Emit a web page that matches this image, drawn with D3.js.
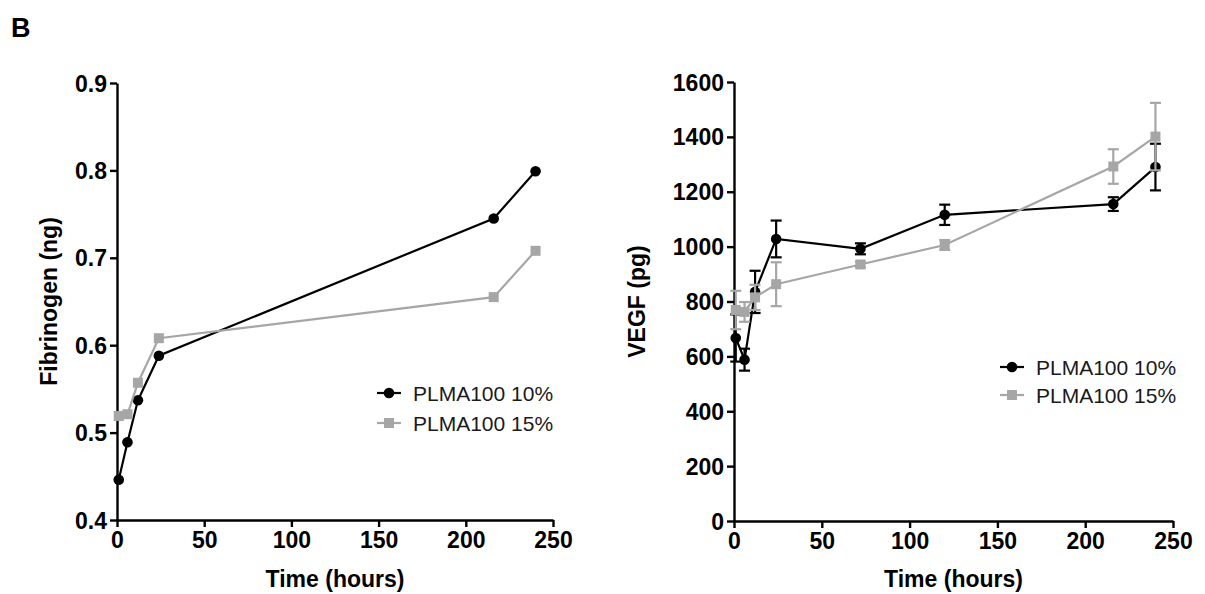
<!DOCTYPE html>
<html>
<head>
<meta charset="utf-8">
<script src="https://cdn.jsdelivr.net/npm/d3@7"></script>
<style>
  body { margin: 0; background: #fff; }
  svg { display: block; }
  text { font-family: "Liberation Sans", Arial, sans-serif; }
</style>
</head>
<body>
<svg id="chart" width="1205" height="594"></svg>
<script>
// ---- Data ----
const panelLabel = "B";
const seriesNames = ["PLMA100 10%", "PLMA100 15%"];

// Left panel: Fibrinogen
const fibTime = [1, 6, 12, 24, 216, 240];
const fib10 = [0.446, 0.489, 0.537, 0.588, 0.745, 0.799];
const fib15 = [0.519, 0.521, 0.557, 0.608, 0.655, 0.708];
const fibYTicks = [0.4, 0.5, 0.6, 0.7, 0.8, 0.9];

// Right panel: VEGF
const vegfTime = [1, 6, 12, 24, 72, 120, 216, 240];
const vegf10 = [667, 588, 835, 1028, 992, 1116, 1155, 1290];
const vegf10Err = [86, 40, 77, 67, 20, 37, 25, 85];
const vegf15 = [769, 762, 815, 863, 935, 1006, 1292, 1401];
const vegf15Err = [70, 36, 46, 80, 10, 18, 63, 123];
const vegfYTicks = [0, 200, 400, 600, 800, 1000, 1200, 1400, 1600];

const xTicks = [0, 50, 100, 150, 200, 250];
const xTitle = "Time (hours)";

// ---- Styles ----
const BLACK = "#000000";
const GRAY = "#a6a6a6";

const svg = d3.select("#chart");

svg.append("text")
  .attr("x", 11).attr("y", 37)
  .attr("font-size", 27).attr("font-weight", "bold")
  .text(panelLabel);

function drawPanel(opts) {
  const x = d3.scaleLinear().domain([0, 250]).range([opts.x0, opts.x1]);
  const y = d3.scaleLinear().domain(opts.yDomain).range([opts.yBottom, opts.yTop]);
  const g = svg.append("g");

  const xAxis = d3.axisBottom(x).tickValues(xTicks).tickSize(7).tickSizeOuter(0).tickFormat(d3.format("d"));
  const yAxis = d3.axisLeft(y).tickValues(opts.yTicks).tickSize(7).tickSizeOuter(0).tickFormat(opts.yFormat);

  const gx = g.append("g").attr("transform", `translate(0,${opts.yBottom})`).call(xAxis);
  const gy = g.append("g").attr("transform", `translate(${opts.x0},0)`).call(yAxis);
  [gx, gy].forEach(a => {
    a.select(".domain").attr("stroke", BLACK).attr("stroke-width", 2.4);
    a.selectAll(".tick line").attr("stroke", BLACK).attr("stroke-width", 2.4);
    a.selectAll(".tick text").attr("fill", BLACK).attr("font-size", 23)
      .attr("font-weight", "bold").attr("font-family", '"Liberation Sans", Arial, sans-serif');
  });
  gx.selectAll(".tick text").attr("y", 12).attr("dy", "0.71em");
  gy.selectAll(".tick text").attr("x", -10).attr("dy", "0.35em");

  g.append("text")
    .attr("x", (opts.x0 + opts.x1) / 2).attr("y", 587)
    .attr("text-anchor", "middle").attr("font-size", 23).attr("font-weight", "bold")
    .text(xTitle);
  g.append("text")
    .attr("transform", `translate(${opts.yTitleX},${(opts.yTop + opts.yBottom) / 2}) rotate(-90)`)
    .attr("text-anchor", "middle").attr("font-size", 23).attr("font-weight", "bold")
    .text(opts.yTitle);

  const line = d3.line().x(d => x(d[0])).y(d => y(d[1]));

  opts.series.forEach(s => {
    const pts = opts.time.map((t, i) => [t, s.values[i], s.err ? s.err[i] : 0]);
    if (s.err) {
      const eb = g.append("g");
      pts.forEach(p => {
        if (!p[2]) return;
        const cx = x(p[0]), yt = y(p[1] + p[2]), yb = y(p[1] - p[2]);
        eb.append("line").attr("x1", cx).attr("x2", cx).attr("y1", yt).attr("y2", yb)
          .attr("stroke", s.color).attr("stroke-width", 2.2);
        [yt, yb].forEach(yy => eb.append("line")
          .attr("x1", cx - 5.5).attr("x2", cx + 5.5).attr("y1", yy).attr("y2", yy)
          .attr("stroke", s.color).attr("stroke-width", 2.2));
      });
    }
    g.append("path").datum(pts).attr("d", line)
      .attr("fill", "none").attr("stroke", s.color).attr("stroke-width", 2.2);
    drawMarkers(g, pts.map(p => [x(p[0]), y(p[1])]), s.shape, s.color);
  });

  opts.series.forEach((s, i) => {
    const ly = opts.legendY + i * opts.legendGap;
    g.append("line").attr("x1", opts.legendX).attr("x2", opts.legendX + 24)
      .attr("y1", ly).attr("y2", ly).attr("stroke", s.color).attr("stroke-width", 2.2);
    drawMarkers(g, [[opts.legendX + 12, ly]], s.shape, s.color);
    g.append("text").attr("x", opts.legendX + 36).attr("y", ly)
      .attr("dy", "0.36em").attr("font-size", 21).attr("fill", "#1a1a1a")
      .text(seriesNames[i]);
  });
}

function drawMarkers(g, pts, shape, color) {
  if (shape === "circle") {
    g.selectAll(null).data(pts).enter().append("circle")
      .attr("cx", d => d[0]).attr("cy", d => d[1]).attr("r", 5.3).attr("fill", color);
  } else {
    g.selectAll(null).data(pts).enter().append("rect")
      .attr("x", d => d[0] - 5).attr("y", d => d[1] - 5)
      .attr("width", 10).attr("height", 10).attr("fill", color);
  }
}

drawPanel({
  x0: 117, x1: 553, yTop: 83, yBottom: 520,
  yDomain: [0.4, 0.9], yTicks: fibYTicks, yFormat: d3.format(".1f"),
  yTitle: "Fibrinogen (ng)", yTitleX: 57,
  time: fibTime,
  series: [
    { values: fib10, color: BLACK, shape: "circle" },
    { values: fib15, color: GRAY, shape: "square" }
  ],
  legendX: 377, legendY: 393, legendGap: 30
});

drawPanel({
  x0: 734, x1: 1173, yTop: 82, yBottom: 521,
  yDomain: [0, 1600], yTicks: vegfYTicks, yFormat: d3.format("d"),
  yTitle: "VEGF (pg)", yTitleX: 645,
  time: vegfTime,
  series: [
    { values: vegf10, err: vegf10Err, color: BLACK, shape: "circle" },
    { values: vegf15, err: vegf15Err, color: GRAY, shape: "square" }
  ],
  legendX: 1000, legendY: 367, legendGap: 28
});
</script>
</body>
</html>
